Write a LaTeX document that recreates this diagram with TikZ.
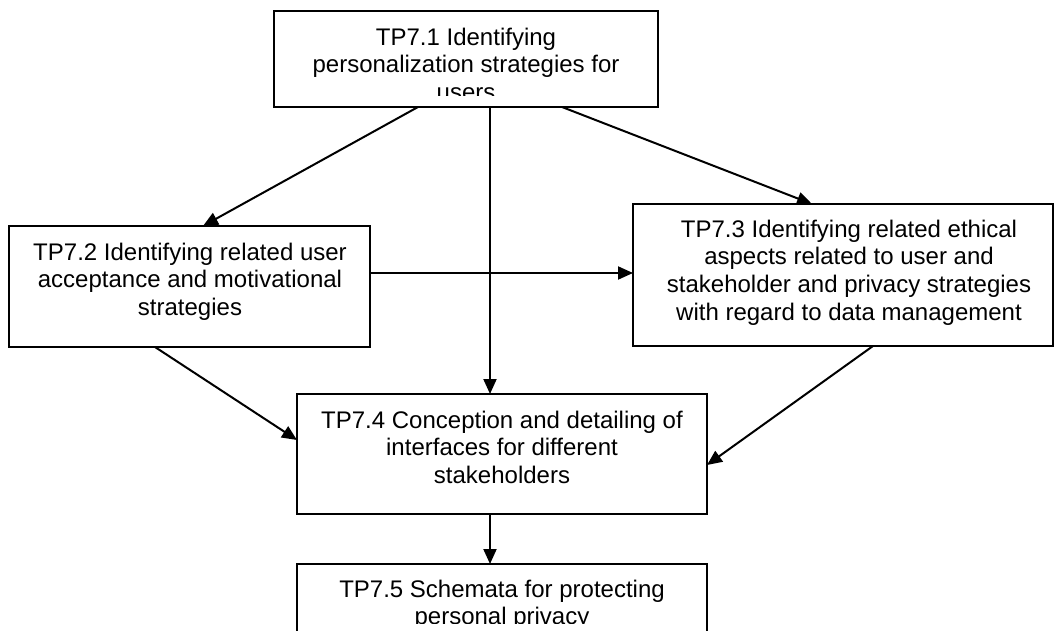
\documentclass[tikz,border=0pt]{standalone}
\usepackage{fontspec}
\setmainfont{Liberation Sans}
\usetikzlibrary{arrows.meta}
\begin{document}
\begin{tikzpicture}[x=1pt,y=-1pt,
  box/.style={draw, line width=2pt, rectangle, inner sep=0pt, outer sep=0pt, anchor=north west},
  txt/.style={anchor=north, align=center, inner sep=0pt, font=\fontsize{24}{27.6}\selectfont},
  conn/.style={line width=2pt, -{Triangle[length=15pt,width=13pt]}}]
\clip (0,0) rectangle (1055,631);
\fill[white] (0,0) rectangle (1055,631);
% boxes
\node[box, minimum width=384pt, minimum height=96pt]  (b1) at (274,11) {};
\node[box, minimum width=361pt, minimum height=121pt] (b2) at (9,226) {};
\node[box, minimum width=420pt, minimum height=142pt] (b3) at (633,204) {};
\node[box, minimum width=410pt, minimum height=120pt] (b4) at (297,394) {};
\node[box, minimum width=410pt, minimum height=100pt] (b5) at (297,564) {};
% texts
\begin{scope}
  \clip (274,11) rectangle (658,96);
  \node[txt] (l1) at (466,25.7) {\strut TP7.1 Identifying\\personalization strategies for\\users};
\end{scope}
\node[txt] (l2) at (190,240.7) {\strut TP7.2 Identifying related user\\acceptance and motivational\\strategies};
\node[txt] (l3) at (849,217.7) {\strut TP7.3 Identifying related ethical\\aspects related to user and\\stakeholder and privacy strategies\\with regard to data management};
\node[txt] (l4) at (502,408.7) {\strut TP7.4 Conception and detailing of\\interfaces for different\\stakeholders};
\begin{scope}
  \clip (297,564) rectangle (707,623);
  \node[txt] (l5) at (502,577.7) {\strut TP7.5 Schemata for protecting\\personal privacy};
\end{scope}
% connectors
\draw[conn] ([xshift=144pt]b1.south west) -- ([xshift=194pt]b2.north west);
\draw[conn] ([xshift=288pt]b1.south west) -- ([xshift=179pt]b3.north west);
\draw[conn] ([xshift=216pt]b1.south west) -- ([xshift=193pt]b4.north west);
\draw[conn] ([yshift=-47pt]b2.north east) -- ([yshift=-69pt]b3.north west);
\draw[conn] ([xshift=146pt]b2.south west) -- ([yshift=-46pt]b4.north west);
\draw[conn] ([xshift=240pt]b3.south west) -- ([yshift=-71pt]b4.north east);
\draw[conn] ([xshift=193pt]b4.south west) -- ([xshift=193pt]b5.north west);
\end{tikzpicture}
\end{document}
